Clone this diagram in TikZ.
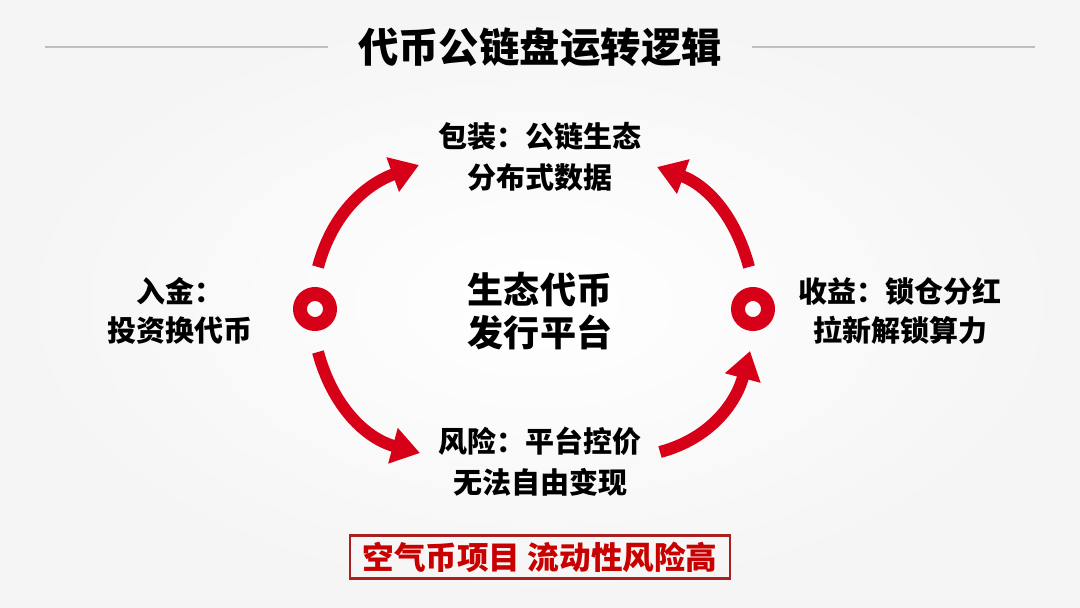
\documentclass[tikz,border=0pt]{standalone}
\usepackage{fontspec}
\setmainfont{Noto Sans CJK SC}
\newfontfamily\heavyfont{Noto Sans CJK SC Black}
\usetikzlibrary{arrows.meta}
\definecolor{flowred}{RGB}{214,0,24}
\definecolor{boxred}{RGB}{168,32,32}
\definecolor{warnred}{RGB}{200,0,0}

\begin{document}
\begin{tikzpicture}[
  lbl/.style={align=center,inner sep=0pt,font=\bfseries\fontsize{16.5}{23.5}\selectfont},
  ring/.style={circle,draw=flowred,line width=0.28cm,minimum size=0.6cm,inner sep=0pt},
  flow/.style={draw=flowred,line width=0.24cm,-{Triangle[length=0.56cm,width=0.7cm]}},
  rule/.style={draw=black!25,line width=0.8pt}
]
% background
\shade[inner color=white,outer color=black!4] (0,0) rectangle (21.6,12.14);
\useasboundingbox (0,0) rectangle (21.6,12.14);

% title with side rules
\node[inner sep=0pt,font=\heavyfont\fontsize{23}{28}\selectfont] (ttl) at (10.8,11.2) {代币公链盘运转逻辑};
\draw[rule] (0.9,11.2) -- ([xshift=-0.6cm]ttl.west);
\draw[rule] ([xshift=0.6cm]ttl.east) -- (20.7,11.2);

% labels
\node[lbl] (top) at (10.8,9.0) {包装：公链生态\\分布式数据};
\node[lbl] (bot) at (10.8,2.9) {风险：平台控价\\无法自由变现};
\node[lbl,font=\bfseries\fontsize{16.5}{22}\selectfont] (lft) at (3.6,5.92) {入金：\\投资换代币};
\node[lbl,font=\bfseries\fontsize{16.5}{22}\selectfont] (rgt) at (18.0,5.92) {收益：锁仓分红\\拉新解锁算力};
\node[lbl,font=\bfseries\fontsize{20.5}{24.5}\selectfont] (ctr) at (10.8,5.92) {生态代币\\发行平台};

% rings
\node[ring] (lring) at (6.3,5.96) {};
\node[ring] (rring) at (15.06,5.96) {};

% arrow ends
\coordinate (a1s) at (6.36,6.8);  \coordinate (a1e) at (8.38,8.84);
\coordinate (a2s) at (6.36,5.1);  \coordinate (a2e) at (8.4,3.08);
\coordinate (a3s) at (14.98,6.8); \coordinate (a3e) at (13.14,8.8);
\coordinate (a4s) at (13.2,3.1);  \coordinate (a4e) at (15.0,5.12);

\draw[flow] (a1s) to[out=75,in=200] (a1e);
\draw[flow] (a2s) to[out=-75,in=165] (a2e);
\draw[flow] (a3s) to[out=105,in=-20] (a3e);
\draw[flow] (a4s) to[out=15,in=255] (a4e);

% warning box
\node[draw=boxred,line width=1.2pt,minimum width=7.6cm,minimum height=0.86cm,inner sep=0pt,
      text=warnred,font=\bfseries\fontsize{18}{22}\selectfont] (warn) at (10.8,1.0) {空气币项目 流动性风险高};
\end{tikzpicture}
\end{document}
